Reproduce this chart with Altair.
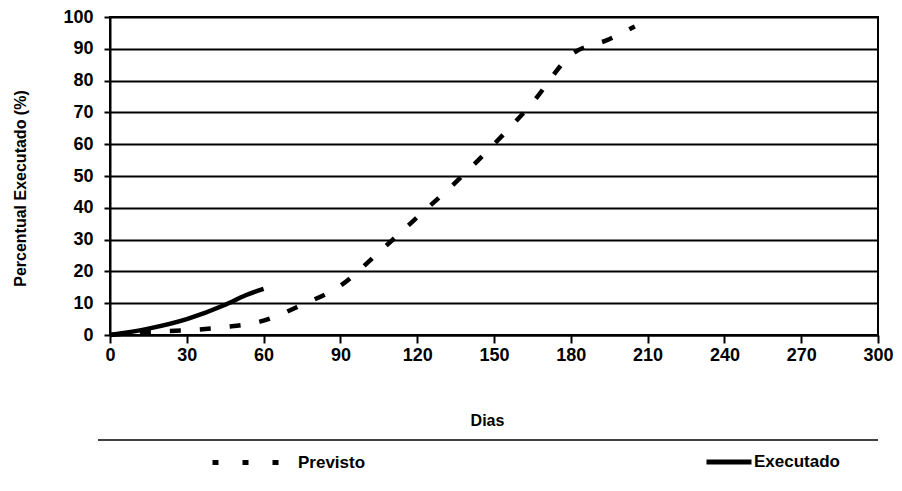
import altair as alt
import pandas as pd

# Previsto (planned) curve
prev_dias = [0, 15, 30, 45, 60, 75, 90, 105, 120, 135, 150, 165, 180, 195, 205]
prev_pct = [0, 1, 1.5, 2.5, 4.5, 9.5, 15.5, 26, 37, 48, 60, 73, 88, 93, 97]
# Executado (actual) curve
exec_dias = [0, 15, 30, 45, 53, 60]
exec_pct = [0, 2, 5, 9.5, 12.5, 14.5]

x_ticks = list(range(0, 301, 30))
y_ticks = list(range(0, 101, 10))

FONT = "Liberation Sans"

prev_df = pd.DataFrame({"dias": prev_dias, "pct": prev_pct, "serie": "Previsto"})
exec_df = pd.DataFrame({"dias": exec_dias, "pct": exec_pct, "serie": "Executado"})

x_enc = alt.X(
    "dias:Q",
    scale=alt.Scale(domain=[0, 300], nice=False),
    axis=alt.Axis(
        values=x_ticks, title="Dias", grid=False, tickSize=8, tickWidth=2,
        tickColor="black", domainColor="black", domainWidth=2,
        labelFont=FONT, labelFontSize=18, labelFontWeight="bold", labelColor="black",
        labelPadding=3, labelFlush=False, labelOverlap=False,
        titleFont=FONT, titleFontSize=16, titleFontWeight="bold", titleColor="black",
        titleX=377, titleY=77,
    ),
)
y_enc = alt.Y(
    "pct:Q",
    scale=alt.Scale(domain=[0, 100], nice=False),
    axis=alt.Axis(
        values=y_ticks, title="Percentual Executado (%)", grid=True,
        gridColor="black", gridWidth=2, gridOpacity=1,
        tickSize=6, tickWidth=2, tickColor="black", domainColor="black", domainWidth=2,
        labelFont=FONT, labelFontSize=18, labelFontWeight="bold", labelColor="black",
        labelPadding=11, labelOverlap=False,
        titleFont=FONT, titleFontSize=16, titleFontWeight="bold", titleColor="black",
        titleAngle=270, titleX=-82, titleY=171,
    ),
)

prev = alt.Chart(prev_df).mark_line(
    strokeDash=[11, 19], strokeWidth=4.5, interpolate="monotone"
).encode(
    x=x_enc, y=y_enc,
    color=alt.Color(
        "serie:N", scale=alt.Scale(domain=["Previsto"], range=["black"]),
        legend=alt.Legend(
            title=None, orient="none", legendX=100, legendY=409,
            symbolType="stroke", symbolSize=4624, symbolStrokeWidth=5,
            symbolDash=[6, 24], symbolStrokeColor="black",
            labelFont=FONT, labelFontSize=17, labelFontWeight="bold", labelColor="black",
            labelOffset=15,
        ),
    ),
)

exe = alt.Chart(exec_df).mark_line(strokeWidth=4.5, interpolate="monotone").encode(
    x=x_enc, y=y_enc,
    color=alt.Color(
        "serie:N", scale=alt.Scale(domain=["Executado"], range=["black"]),
        legend=alt.Legend(
            title=None, orient="none", legendX=594, legendY=420,
            symbolType="stroke", symbolSize=2025, symbolStrokeWidth=5,
            symbolStrokeColor="black",
            labelFont=FONT, labelFontSize=17, labelFontWeight="bold", labelColor="black",
            labelOffset=0,
        ),
    ),
)

sep = alt.Chart(pd.DataFrame({"a": [0]})).mark_rule(color="black", strokeWidth=1.5).encode(
    x=alt.value(-12), x2=alt.value(768), y=alt.value(423)
)

chart = alt.layer(prev, exe, sep).resolve_scale(color="independent").properties(
    width=768, height=318,
    autosize=alt.AutoSizeParams(type="none"),
    padding={"left": 102, "top": 9, "right": 16, "bottom": 140},
    background="white",
).configure_view(stroke="black", strokeWidth=2)

chart.save("out.html", embed_options={"renderer": "svg", "actions": False})
